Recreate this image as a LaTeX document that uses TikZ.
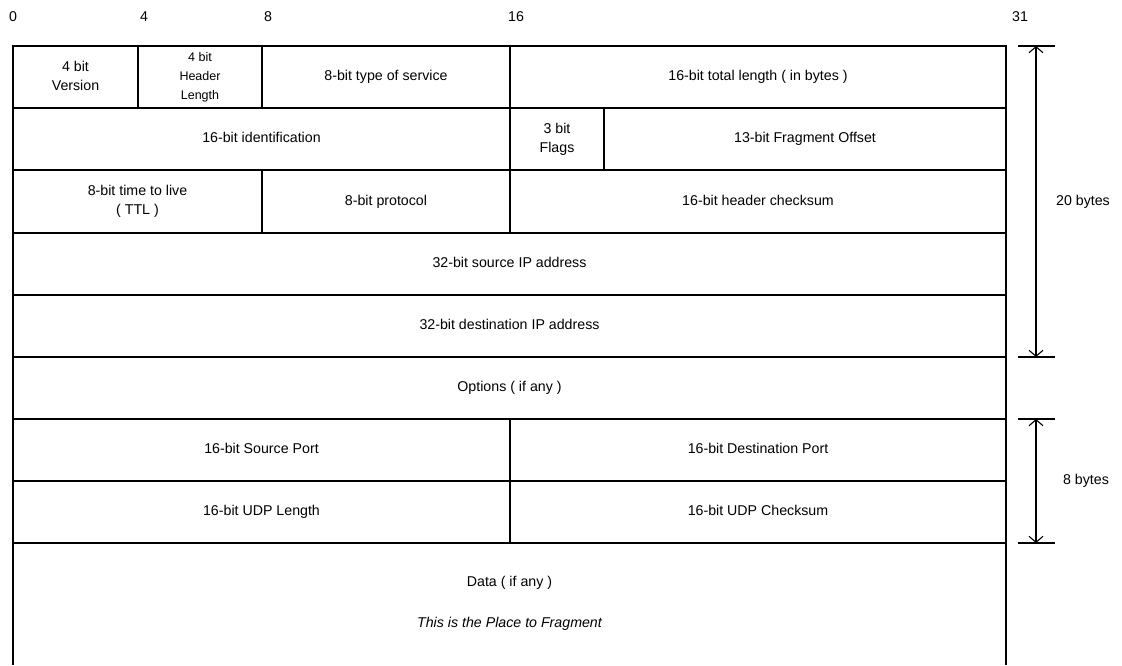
\documentclass[tikz,border=0pt]{standalone}
\usepackage{fontspec}
\setmainfont{Liberation Sans}
\usetikzlibrary{arrows.meta}
\newcommand\ipbox[7][]{\node[cell,#1, minimum width={(#5)-(#3)}, minimum height={(#6)-(#4)}] (#2) at ({((#3)+(#5))/2},{((#4)+(#6))/2}) {#7};}
\begin{document}
\begin{tikzpicture}[x=1pt,y=-1pt,
  cell/.style={draw=black, line width=1.1pt, inner sep=0pt, align=center,
    font=\fontsize{14.2}{19}\selectfont,
    execute at begin node={\vphantom{Ag}}, execute at end node={\vphantom{Ag}}},
  small/.style={font=\fontsize{12.5}{19}\selectfont},
  lbl/.style={inner sep=0pt, font=\fontsize{14.2}{17}\selectfont},
  tick/.style={line width=1.1pt},
  span/.style={line width=1.1pt, {Straight Barb[length=6pt,width=14pt,line width=1.1pt]}-{Straight Barb[length=6pt,width=14pt,line width=1.1pt]}}]
\useasboundingbox (0,0) rectangle (1122,665);
% bit labels
\node[lbl] (b0) at (13,17) {0};
\node[lbl] (b4) at (144,17) {4};
\node[lbl] (b8) at (268,17) {8};
\node[lbl] (b16) at (516,17) {16};
\node[lbl] (b31) at (1020,17) {31};
% row 1
\ipbox{ver}{13}{46}{138}{108}{4 bit\\Version}
\ipbox[small]{hlen}{138}{46}{262}{108}{4 bit\\Header\\Length}
\ipbox{tos}{262}{46}{510}{108}{8-bit type of service}
\ipbox{tlen}{510}{46}{1006}{108}{16-bit total length ( in bytes )}
% row 2
\ipbox{ident}{13}{108}{510}{170}{16-bit identification}
\ipbox{flags}{510}{108}{604}{170}{3 bit\\Flags}
\ipbox{frag}{604}{108}{1006}{170}{13-bit Fragment Offset}
% row 3
\ipbox{ttl}{13}{170}{262}{233}{8-bit time to live\\( TTL )}
\ipbox{proto}{262}{170}{510}{233}{8-bit protocol}
\ipbox{hcs}{510}{170}{1006}{233}{16-bit header checksum}
% rows 4-6
\ipbox{src}{13}{233}{1006}{295}{32-bit source IP address}
\ipbox{dst}{13}{295}{1006}{357}{32-bit destination IP address}
\ipbox{opt}{13}{357}{1006}{419}{Options ( if any )}
% UDP
\ipbox{sport}{13}{419}{510}{481}{16-bit Source Port}
\ipbox{dport}{510}{419}{1006}{481}{16-bit Destination Port}
\ipbox{ulen}{13}{481}{510}{543}{16-bit UDP Length}
\ipbox{ucs}{510}{481}{1006}{543}{16-bit UDP Checksum}
% data
\coordinate (dTL) at (13,543);
\coordinate (dTR) at (1006,543);
\coordinate (dBL) at (13,665);
\coordinate (dBR) at (1006,665);
\draw[tick] (dTL) -- (dBL);
\draw[tick] (dTR) -- (dBR);
\node[lbl] (data) at (509.5,583) {Data ( if any )};
\node[lbl, font=\fontsize{14.2}{17}\selectfont\itshape] (place) at (509.5,624) {This is the Place to Fragment};
% 20 bytes
\coordinate (t1a) at (1018,46); \coordinate (t1b) at (1055,46);
\coordinate (t2a) at (1018,357); \coordinate (t2b) at (1055,357);
\coordinate (a1) at (1036,46); \coordinate (a2) at (1036,357);
\draw[tick] (t1a) -- (t1b);
\draw[tick] (t2a) -- (t2b);
\draw[span] (a1) -- (a2);
\node[lbl] (l20) at (1083,202) {20 bytes};
% 8 bytes
\coordinate (t3a) at (1018,419); \coordinate (t3b) at (1055,419);
\coordinate (t4a) at (1018,543); \coordinate (t4b) at (1055,543);
\coordinate (a3) at (1036,419); \coordinate (a4) at (1036,543);
\draw[tick] (t3a) -- (t3b);
\draw[tick] (t4a) -- (t4b);
\draw[span] (a3) -- (a4);
\node[lbl] (l8) at (1086,481) {8 bytes};
\end{tikzpicture}
\end{document}
